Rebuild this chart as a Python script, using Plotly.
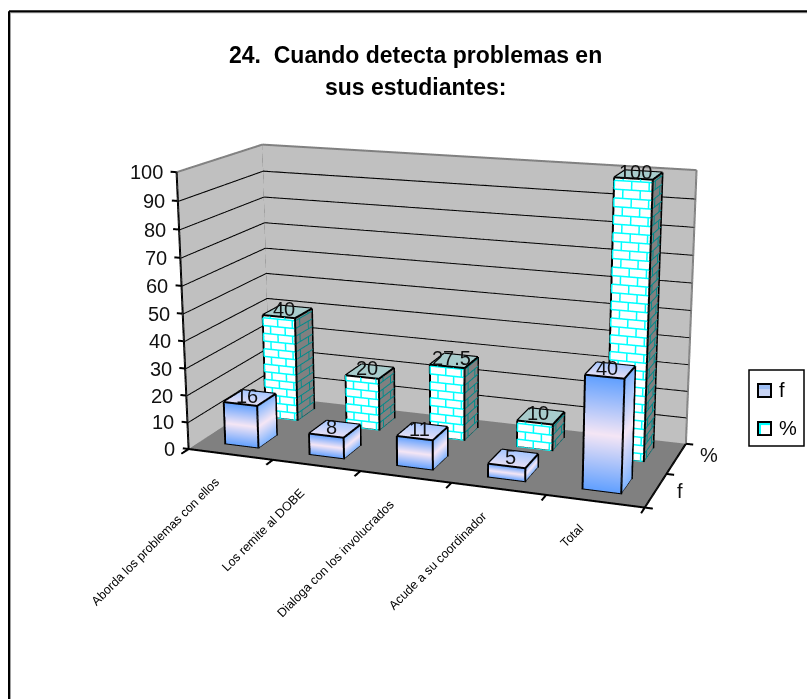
import plotly.graph_objects as go

# ---- data ----
categories = ["Aborda los problemas con ellos", "Los remite al DOBE", "Dialoga con los involucrados",
              "Acude a su coordinador", "Total"]
f_values = [16, 8, 11, 5, 40]
pct_values = [40, 20, 27.5, 10, 100]
f_labels = ["16", "8", "11", "5", "40"]
pct_labels = ["40", "20", "27.5", "10", "100"]
series_names = ["f", "%"]
z_ticks = [0, 10, 20, 30, 40, 50, 60, 70, 80, 90, 100]
title_lines = ["24.\u00a0 Cuando detecta problemas en", "sus estudiantes:"]

# ---- style ----
W, H = 807, 699
XR, YR, ZR = (-0.5, 5.5), (-0.25, 2.25), (-5.0, 105.0)
BAR_W, BAR_D = 0.39, 0.45
FONT = "Liberation Sans, Arial, sans-serif"

# ---- camera and viewport matched to the reference's perspective ----
eye = dict(x=0.93914, y=-2.53958, z=0.71514)
center = dict(x=-3.63112, y=10.61499, z=-2.85693)
up = dict(x=0.09863, y=-0.29177, z=1)
aspect = dict(x=1, y=0.40932, z=0.55124)
CX, CY, VH = 468.87869, 300.39507, 1317.34697
HW = min(CX, W - CX)
TOP = CY - VH / 2
FH = VH
dom = dict(x=[(CX - HW) / W, min(1.0, (CX + HW) / W)], y=[0, 1])


def PY(py):
    return 1 - (py - TOP) / FH


def PX(px):
    return px / W


# ---- helpers ----
class Mesh:
    def __init__(s):
        s.x = []; s.y = []; s.z = []; s.i = []; s.j = []; s.k = []; s.c = []

    def quad(s, pts, cols):
        n = len(s.x)
        for q, col in zip(pts, cols):
            s.x.append(q[0]); s.y.append(q[1]); s.z.append(q[2]); s.c.append(col)
        s.i += [n, n]; s.j += [n + 1, n + 2]; s.k += [n + 2, n + 3]

    def trace(s):
        return go.Mesh3d(x=s.x, y=s.y, z=s.z, i=s.i, j=s.j, k=s.k, vertexcolor=s.c, flatshading=False,
                         lighting=dict(ambient=1, diffuse=0, specular=0, roughness=1, fresnel=0),
                         hoverinfo="skip", showlegend=False, showscale=False)


class Lines:
    def __init__(s):
        s.x = []; s.y = []; s.z = []

    def seg(s, a, b):
        s.x += [a[0], b[0], None]; s.y += [a[1], b[1], None]; s.z += [a[2], b[2], None]

    def trace(s, color, width):
        return go.Scatter3d(x=s.x, y=s.y, z=s.z, mode="lines", line=dict(color=color, width=width),
                            hoverinfo="skip", showlegend=False)


traces = []
ZMAX = z_ticks[-1]
NC = len(categories)
NS = len(series_names)
walls = Mesh()
walls.quad([(0, NS, 0), (NC, NS, 0), (NC, NS, ZMAX), (0, NS, ZMAX)], ["#C0C0C0"] * 4)
walls.quad([(0, 0, 0), (0, NS, 0), (0, NS, ZMAX), (0, 0, ZMAX)], ["#C0C0C0"] * 4)
walls.quad([(0, 0, 0), (NC, 0, 0), (NC, NS, 0), (0, NS, 0)], ["#808080"] * 4)
traces.append(walls.trace())

grid = Lines(); edge = Lines(); axis = Lines()
for z in z_ticks[1:-1]:
    grid.seg((0, 0, z), (0, NS, z)); grid.seg((0, NS, z), (NC, NS, z))
edge.seg((0, 0, ZMAX), (0, NS, ZMAX)); edge.seg((0, NS, ZMAX), (NC, NS, ZMAX))
edge.seg((0, NS, 0), (0, NS, ZMAX)); edge.seg((NC, NS, 0), (NC, NS, ZMAX))
axis.seg((0, 0, 0), (0, 0, ZMAX)); axis.seg((0, 0, 0), (NC, 0, 0)); axis.seg((NC, 0, 0), (NC, NS, 0))
for z in z_ticks:
    axis.seg((0, 0, z), (-0.07, 0, z))
for i in range(NC + 1):
    axis.seg((i, 0, 0), (i, -0.16, 0))
for j in range(NS + 1):
    axis.seg((NC, j, 0), (NC + 0.08, j, 0))
traces += [grid.trace("#000000", 4), edge.trace("#808080", 4), axis.trace("#000000", 4)]


def bar_boxes(values, yc):
    return [(i + 0.5 - BAR_W / 2, i + 0.5 + BAR_W / 2, yc - BAR_D / 2, yc + BAR_D / 2, v)
            for i, v in enumerate(values)]


BLUE = "#5F9FFF"; BLUE2 = "#7FB4FF"; PINK = "#F5E6F5"
bars_f = Mesh(); out = Lines()
for x0, x1, y0, y1, v in bar_boxes(f_values, 0.5):
    m = v / 2
    bars_f.quad([(x0, y0, 0), (x1, y0, 0), (x1, y0, m), (x0, y0, m)], [BLUE, BLUE, PINK, PINK])
    bars_f.quad([(x0, y0, m), (x1, y0, m), (x1, y0, v), (x0, y0, v)], [PINK, PINK, BLUE, BLUE])
    bars_f.quad([(x1, y0, 0), (x1, y1, 0), (x1, y1, m), (x1, y0, m)], [BLUE2, BLUE2, PINK, PINK])
    bars_f.quad([(x1, y0, m), (x1, y1, m), (x1, y1, v), (x1, y0, v)], [PINK, PINK, BLUE2, BLUE2])
    bars_f.quad([(x0, y0, v), (x1, y0, v), (x1, y1, v), (x0, y1, v)], ["#E6E0F5", "#E6E0F5", "#A8C8FF", "#A8C8FF"])

bars_p = Mesh(); mortar = Lines(); mortar_side = Lines()
COURSE = 3.0; BRICK = 0.18; EPS = 0.006
for x0, x1, y0, y1, v in bar_boxes(pct_values, 1.5):
    bars_p.quad([(x0, y0, 0), (x1, y0, 0), (x1, y0, v), (x0, y0, v)], ["#FFFFFF"] * 4)
    bars_p.quad([(x1, y0, 0), (x1, y1, 0), (x1, y1, v), (x1, y0, v)], ["#808080"] * 4)
    bars_p.quad([(x0, y0, v), (x1, y0, v), (x1, y1, v), (x0, y1, v)], ["#A8CCCC"] * 4)
    n = int(v // COURSE)
    for c in range(n + 1):
        z = c * COURSE
        mortar.seg((x0, y0 - EPS, z), (x1, y0 - EPS, z))
        mortar_side.seg((x1 + EPS, y0, z), (x1 + EPS, y1, z))
        top = min(z + COURSE, v)
        off = (c % 2) * BRICK / 2
        xv = x0 + off
        while xv < x1:
            mortar.seg((xv, y0 - EPS, z), (xv, y0 - EPS, top))
            xv += BRICK
        yv = y0 + ((c % 2) * 0.5 + 0.25) * BAR_D
        mortar_side.seg((x1 + EPS, yv, z), (x1 + EPS, yv, top))
traces += [bars_f.trace(), bars_p.trace(), mortar.trace("#00FFFF", 3), mortar_side.trace("#008B8B", 2)]

for x0, x1, y0, y1, v in bar_boxes(f_values, 0.5) + bar_boxes(pct_values, 1.5):
    E = 0.004
    a, b = x0 - E, x1 + E
    c, d = y0 - E, y1 + E
    for zz in (0, v):
        out.seg((a, c, zz), (b, c, zz)); out.seg((b, c, zz), (b, d, zz))
        out.seg((b, d, zz), (a, d, zz)); out.seg((a, d, zz), (a, c, zz))
    for q in ((a, c), (b, c), (b, d), (a, d)):
        out.seg((q[0], q[1], 0), (q[0], q[1], v))
traces.append(out.trace("#000000", 4))

fig = go.Figure(traces)

ann = []


def a3(x, y, z, text, **kw):
    d = dict(x=x, y=y, z=z, text=text, showarrow=False, font=dict(family=FONT, size=20, color="#111111"))
    d.update(kw)
    ann.append(d)


for z in z_ticks:
    a3(0, 0, z, str(z), xanchor="right", yanchor="middle", xshift=-11)
for i, c in enumerate(categories):
    a3(i + 0.5, 0, 0, c, xanchor="right", yanchor="top", xshift=-6, yshift=-18, textangle=-45,
       font=dict(family=FONT, size=12.5, color="#000000"))
a3(NC, 0.5, 0, series_names[0], xanchor="center", yanchor="middle", xshift=24, yshift=-1)
a3(NC, 1.5, 0, series_names[1], xanchor="center", yanchor="middle", xshift=33, yshift=3)
for i, (v, t) in enumerate(zip(f_values, f_labels)):
    a3(i + 0.5, 0.5, v, t, xanchor="center", yanchor="middle", xshift=-3, yshift=2)
for i, (v, t) in enumerate(zip(pct_values, pct_labels)):
    a3(i + 0.5, 1.5, v, t, xanchor="center", yanchor="middle", xshift=-3, yshift=3)


def rect(x0, x1, y0, y1, lw, fill):
    return dict(type="rect", xref="paper", yref="paper", x0=PX(x0), x1=PX(x1), y0=PY(y1), y1=PY(y0),
                line=dict(color="#000000", width=lw), fillcolor=fill)


def fillrect(x0, x1, y0, y1, fill):
    return dict(type="rect", xref="paper", yref="paper", x0=PX(x0), x1=PX(x1), y0=PY(y1), y1=PY(y0),
                line=dict(width=0), fillcolor=fill)


def hline(py, color, w):
    return dict(type="line", xref="paper", yref="paper", x0=PX(9), x1=1, y0=PY(py), y1=PY(py), line=dict(color=color, width=w))


def vline(px, color, w):
    return dict(type="line", xref="paper", yref="paper", x0=PX(px), x1=PX(px), y0=PY(11), y1=PY(H), line=dict(color=color, width=w))


shapes = [hline(12.5, "#808080", 1), vline(10.5, "#A0A0A0", 1), hline(11, "#000000", 2), vline(9, "#000000", 2),
          rect(749, 804, 370, 446, 1.5, "#FFFFFF"),
          rect(758, 771, 384, 397, 2, "#C8D4F4"), fillrect(759, 770, 385, 389, "#9DBEF4"),
          rect(758, 771, 422, 435, 2, "#00FFFF"), fillrect(761, 770, 425, 434, "#FFFFFF")]


def pa(px, py, text, size, xanchor="center"):
    return dict(x=PX(px), y=PY(py), xref="paper", yref="paper", text=text, showarrow=False, xanchor=xanchor,
                yanchor="middle", font=dict(family=FONT, size=size, color="#000000"))


titles = [pa(415, 55, "<b>" + title_lines[0] + "</b>", 23), pa(415.5, 87, "<b>" + title_lines[1] + "</b>", 23),
          pa(777, 390, series_names[0], 20, "left"), pa(777, 428, series_names[1], 20, "left")]

hidden = dict(visible=False, showgrid=False, zeroline=False, showline=False, showticklabels=False,
              showspikes=False, showbackground=False)
fig.update_layout(
    width=W, height=FH, margin=dict(l=0, r=0, t=0, b=0), paper_bgcolor="#FFFFFF", showlegend=False,
    scene=dict(domain=dom, bgcolor="rgba(0,0,0,0)",
               xaxis=dict(range=list(XR), **hidden), yaxis=dict(range=list(YR), **hidden),
               zaxis=dict(range=list(ZR), **hidden),
               aspectmode="manual", aspectratio=aspect,
               camera=dict(eye=eye, center=center, up=up, projection=dict(type="perspective")),
               annotations=ann),
    shapes=shapes, annotations=titles,
)
js = (f"document.documentElement.style.overflow='hidden';document.body.style.overflow='hidden';"
      f"document.body.style.margin='0';document.body.style.height='{H}px';"
      f"document.body.firstElementChild.style.marginTop='{TOP:.3f}px';")
fig.write_html("out.html", post_script=js, config=dict(displayModeBar=False))
